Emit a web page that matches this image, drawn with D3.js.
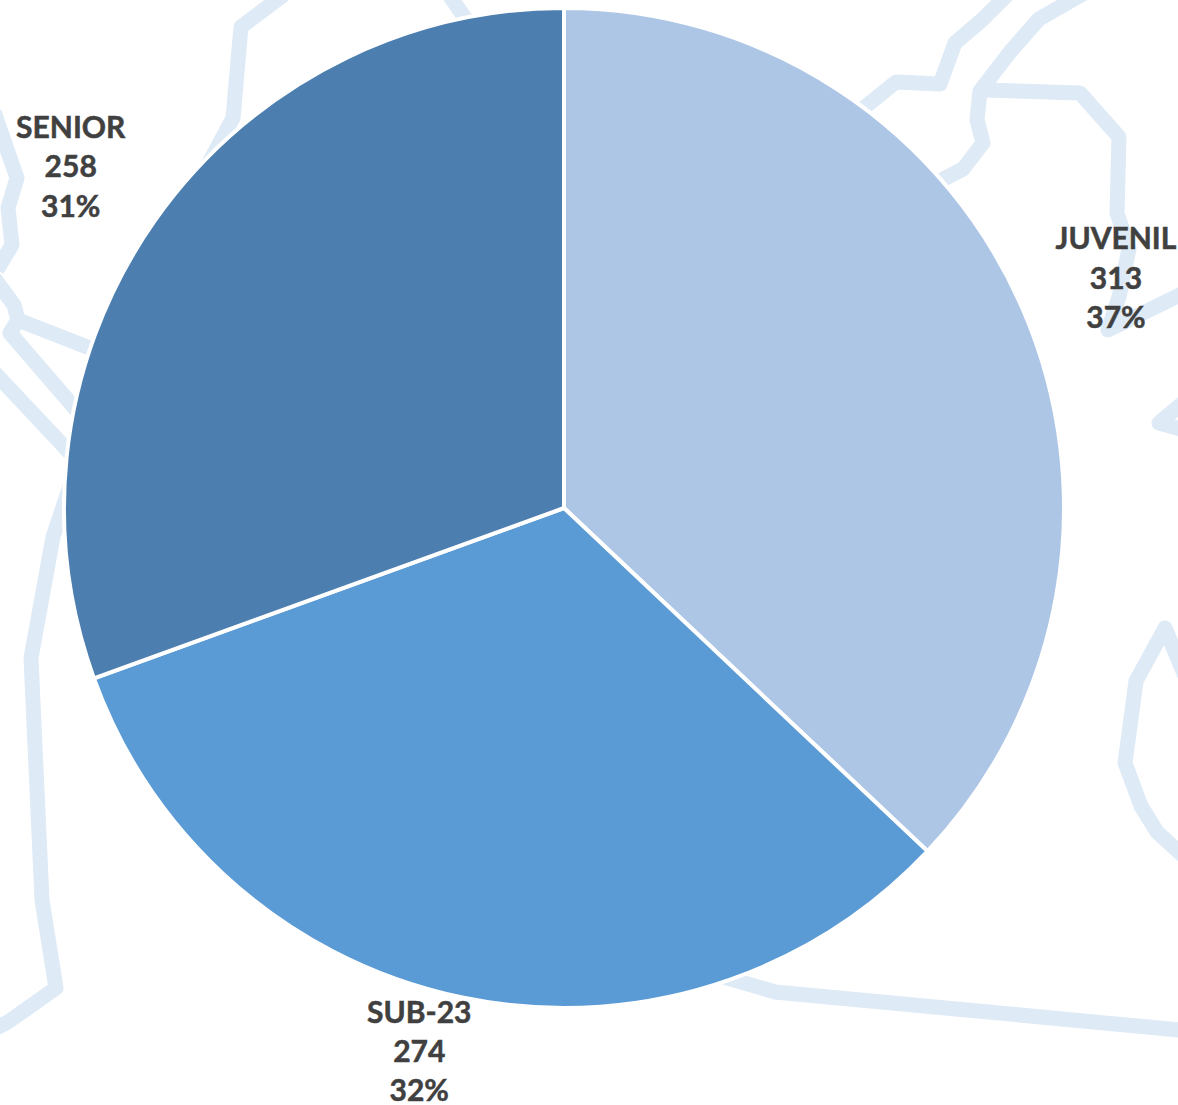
<!DOCTYPE html>
<html>
<head>
<meta charset="utf-8">
<script src="https://cdn.jsdelivr.net/npm/d3@7"></script>
<style>
html,body{margin:0;padding:0;background:#fff;overflow:hidden}
svg{display:block}
</style>
</head>
<body>
<script>
const categories = ["JUVENIL", "SUB-23", "SENIOR"];
const values = [313, 274, 258];
const percents = ["37%", "32%", "31%"];
const colors = ["#adc6e5", "#5b9bd5", "#4c7eaf"];

// decorative map outline behind the pie
const mapOutlines = [
  [[290,-10],[241,27],[233,118],[202,176]],
  [[-6,112],[17,178],[8,208],[12,245],[-3,270]],
  [[-6,278],[14,305],[18,320],[95,350]],
  [[18,320],[10,333],[85,420]],
  [[-6,372],[72,455]],
  [[72,480],[53,537],[31,658],[42,900],[56,988],[8,1022],[-12,1032]],
  [[447,-8],[472,28]],
  [[855,115],[896,82],[940,84],[955,43],[983,19],[1012,-10]],
  [[1095,-13],[1039,19],[1010,52],[980,91],[977,120],[983,143],[963,169],[930,186]],
  [[985,90],[1080,93],[1119,137],[1117,213],[1129,249],[1119,297],[1108,330],[1190,290]],
  [[1190,397],[1159,423],[1195,433]],
  [[1190,688],[1165,628],[1136,681],[1125,763],[1141,806],[1157,832],[1190,862]],
  [[700,970],[775,992],[1190,1031]]
];

const width = 1178, height = 1105;
const cx = 564, cy = 508, radius = 500;
// distance and angular nudge of each label, measured from the slice's mid angle
const labelRadius = [598, 562, 600];
const labelNudge = [0.012, 0.056, -0.006];
const lineHeight = 39.4;

const svg = d3.select("body").append("svg")
  .attr("width", width).attr("height", height);

const line = d3.line();
svg.append("g").selectAll("path").data(mapOutlines).join("path")
  .attr("d", line)
  .attr("fill", "none")
  .attr("stroke", "#deeaf6")
  .attr("stroke-width", 15)
  .attr("stroke-linejoin", "round");

const pie = d3.pie().sort(null)(values);
const arc = d3.arc().innerRadius(0).outerRadius(radius);
const g = svg.append("g").attr("transform", `translate(${cx},${cy})`);
g.selectAll("path").data(pie).join("path")
  .attr("d", arc)
  .attr("fill", (d, i) => colors[i])
  .attr("stroke", "#fff")
  .attr("stroke-width", 4);

const labels = g.append("g").selectAll("text").data(pie).join("text")
  .attr("text-anchor", "middle")
  .attr("font-family", "Lato, sans-serif")
  .attr("font-weight", 700)
  .attr("font-size", 30)
  .attr("fill", "#404040")
  .attr("stroke", "#404040")
  .attr("stroke-width", 0.5)
  .attr("transform", (d, i) => {
    const a = (d.startAngle + d.endAngle) / 2 + labelNudge[i];
    return `translate(${labelRadius[i] * Math.sin(a)},${-labelRadius[i] * Math.cos(a)})`;
  });
labels.each(function (d, i) {
  const t = d3.select(this);
  [categories[i], String(values[i]), percents[i]].forEach((s, k) => {
    t.append("tspan").attr("x", 0).attr("y", (k - 1) * lineHeight + 11).text(s);
  });
});
</script>
</body>
</html>
